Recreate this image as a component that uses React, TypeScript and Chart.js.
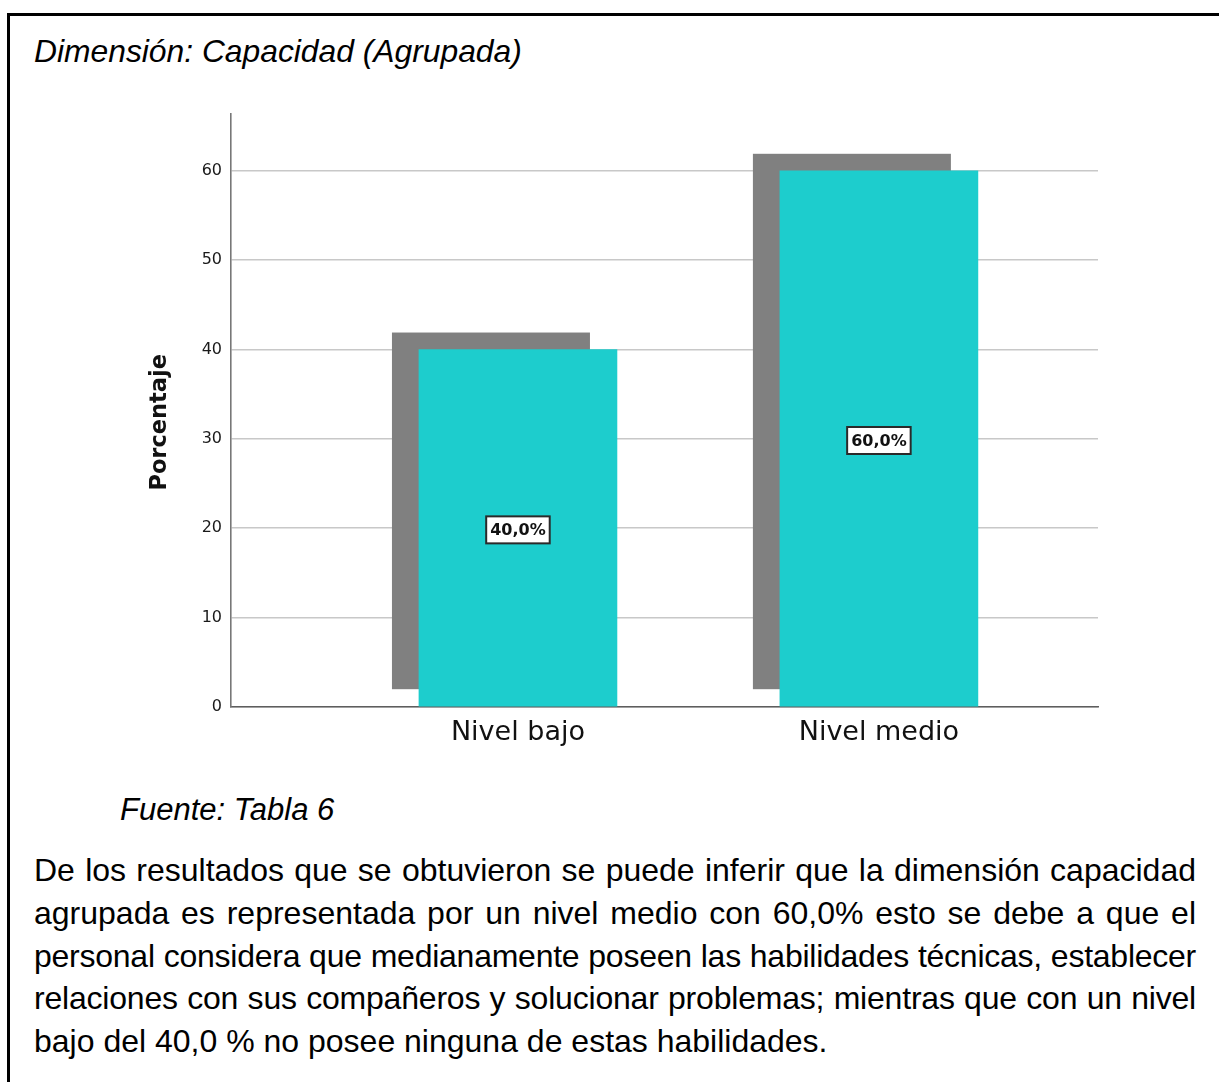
import React, { useEffect, useRef } from "react";
import { Chart, registerables } from "chart.js";

Chart.register(...registerables);

// ---- data ----
const categories = ["Nivel bajo", "Nivel medio"];
const percentages = [40.0, 60.0];
const yTicks = [0, 10, 20, 30, 40, 50, 60];
const yAxisTitle = "Porcentaje";
const headingText = "Dimensión: Capacidad (Agrupada)";
const sourceText = "Fuente: Tabla 6";
const paragraphLines = [
  "De los resultados que se obtuvieron se puede inferir que la dimensión capacidad",
  "agrupada es representada por un nivel medio con 60,0% esto se debe a que el",
  "personal considera que medianamente poseen las habilidades técnicas, establecer",
  "relaciones con sus compañeros y solucionar problemas; mientras que con un nivel",
  "bajo del 40,0 % no posee ninguna de estas habilidades.",
];
const lineLetterSpacing = [0, 0, -0.25, -0.2, 0];

// ---- styles ----
const BAR_COLOR = "#1dcdcd";
const SHADOW_COLOR = "#808080";
const AXIS_FONT = '"DejaVu Sans", Verdana, sans-serif';
const TEXT_FONT = '"Liberation Sans", Arial, sans-serif';

const shadowPlugin = {
  id: "barShadow",
  beforeDatasetsDraw(chart: any) {
    const ctx = chart.ctx;
    const meta = chart.getDatasetMeta(0);
    ctx.save();
    ctx.fillStyle = SHADOW_COLOR;
    meta.data.forEach((bar: any) => {
      const { x, y, base, width } = bar.getProps(["x", "y", "base", "width"], true);
      ctx.fillRect(x - width / 2 - 27, y - 17, width, base - y);
    });
    ctx.restore();
  },
};

const labelPlugin = {
  id: "valueLabels",
  afterDatasetsDraw(chart: any) {
    const ctx = chart.ctx;
    const meta = chart.getDatasetMeta(0);
    ctx.save();
    ctx.font = `bold 16px ${AXIS_FONT}`;
    meta.data.forEach((bar: any, i: number) => {
      const { x, y, base } = bar.getProps(["x", "y", "base"], true);
      const text = percentages[i].toFixed(1).replace(".", ",") + "%";
      const w = ctx.measureText(text).width + 8;
      const h = 27;
      const cy = (y + base) / 2 + 2;
      ctx.fillStyle = "#ffffff";
      ctx.fillRect(x - w / 2, cy - h / 2, w, h);
      ctx.strokeStyle = "#2a2a2a";
      ctx.lineWidth = 2;
      ctx.strokeRect(x - w / 2, cy - h / 2, w, h);
      ctx.fillStyle = "#111111";
      ctx.textAlign = "center";
      ctx.textBaseline = "middle";
      ctx.fillText(text, x, cy + 1);
    });
    ctx.restore();
  },
};

const yTitlePlugin = {
  id: "yTitle",
  afterDraw(chart: any) {
    const ctx = chart.ctx;
    const area = chart.chartArea;
    ctx.save();
    ctx.translate(area.left - 71, (area.top + area.bottom) / 2 + 12);
    ctx.rotate(-Math.PI / 2);
    ctx.font = `bold 22.5px ${AXIS_FONT}`;
    ctx.fillStyle = "#111111";
    ctx.textAlign = "center";
    ctx.textBaseline = "middle";
    ctx.fillText(yAxisTitle, 0, 0);
    ctx.restore();
  },
};

function BarChart() {
  const ref = useRef<HTMLCanvasElement | null>(null);
  useEffect(() => {
    if (!ref.current) return;
    const chart = new Chart(ref.current, {
      type: "bar",
      data: {
        datasets: [
          {
            data: percentages.map((v, i) => ({ x: i, y: v })) as any,
            backgroundColor: BAR_COLOR,
            borderWidth: 0,
            barThickness: 198,
          },
        ],
      },
      options: {
        animation: false,
        responsive: false,
        devicePixelRatio: 1,
        layout: { padding: { left: 0, right: 22, top: 14, bottom: 0 } },
        plugins: { legend: { display: false }, tooltip: { enabled: false } },
        scales: {
          x: {
            type: "linear",
            min: -0.795,
            max: 1.607,
            offset: false,
            grid: { display: false, drawTicks: false },
            border: { display: true, color: "#5e5e5e", width: 1.5 },
            afterBuildTicks: (s: any) => {
              s.ticks = categories.map((_, i) => ({ value: i }));
            },
            afterFit: (s: any) => {
              s.height = 53;
            },
            ticks: {
              callback: (v: any) => categories[v as number],
              font: { family: AXIS_FONT, size: 27 },
              color: "#111111",
              padding: 10,
              autoSkip: false,
              maxRotation: 0,
            },
          },
          y: {
            min: 0,
            max: 66.4,
            grid: { color: "#c8c8c8", lineWidth: 1.6, drawTicks: false },
            border: { display: true, color: "#777777", width: 1.6 },
            afterBuildTicks: (s: any) => {
              s.ticks = yTicks.map((v) => ({ value: v }));
            },
            afterFit: (s: any) => {
              s.width = 131;
            },
            ticks: {
              font: { family: AXIS_FONT, size: 16 },
              color: "#1a1a1a",
              padding: 9,
            },
          },
        },
      } as any,
      plugins: [shadowPlugin, labelPlugin, yTitlePlugin],
    });
    return () => chart.destroy();
  }, []);
  return <canvas ref={ref} width={1020} height={665} style={{ display: "block" }} />;
}

export default function App() {
  return (
    <div
      style={{
        position: "absolute",
        left: 0,
        top: 0,
        width: 1219,
        height: 1082,
        overflow: "hidden",
        background: "#ffffff",
      }}
    >
      <div
        style={{
          position: "absolute",
          left: 7,
          top: 13,
          width: 1300,
          height: 1200,
          borderTop: "3px solid #000",
          borderLeft: "3px solid #000",
        }}
      />
      <div
        style={{
          position: "absolute",
          left: 34,
          top: 33,
          fontFamily: TEXT_FONT,
          fontStyle: "italic",
          fontSize: 31.8,
          lineHeight: "37px",
          color: "#000",
          whiteSpace: "nowrap",
        }}
      >
        {headingText}
      </div>
      <div style={{ position: "absolute", left: 100, top: 95 }}>
        <BarChart />
      </div>
      <div
        style={{
          position: "absolute",
          left: 120,
          top: 792,
          fontFamily: TEXT_FONT,
          fontStyle: "italic",
          fontSize: 31,
          lineHeight: "36px",
          color: "#000",
          whiteSpace: "nowrap",
        }}
      >
        {sourceText}
      </div>
      <div
        style={{
          position: "absolute",
          left: 34,
          top: 849,
          width: 1162,
          fontFamily: TEXT_FONT,
          fontSize: 32,
          lineHeight: "42.8px",
          color: "#000",
        }}
      >
        {paragraphLines.map((line, i) => {
          const last = i === paragraphLines.length - 1;
          return (
            <div
              key={i}
              style={{
                whiteSpace: "nowrap",
                textAlign: last ? "left" : "justify",
                textAlignLast: last ? "left" : "justify",
                letterSpacing: `${lineLetterSpacing[i]}px`,
              }}
            >
              {line}
            </div>
          );
        })}
      </div>
    </div>
  );
}
